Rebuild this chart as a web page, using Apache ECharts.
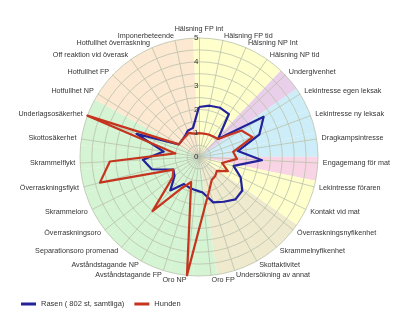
<!DOCTYPE html>
<html><head><meta charset="utf-8">
<script src="https://cdn.jsdelivr.net/npm/echarts@6/dist/echarts.min.js"></script>
<style>html,body{margin:0;padding:0;background:#fff}#c{width:400px;height:320px}</style>
</head><body><div id="c"></div>
<script>
// Categories in clockwise order starting at the top
const categories = [
  'Hälsning FP int','Hälsning FP tid','Hälsning NP Int','Hälsning NP tid','Undergivenhet',
  'Lekintresse egen leksak','Lekintresse ny leksak','Dragkampsintresse','Engagemang för mat',
  'Lekintresse föraren','Kontakt vid mat','Överraskningsnyfikenhet','Skrammelnyfikenhet',
  'Skottaktivitet','Undersökning av annat','Oro FP','Oro NP','Avståndstagande FP',
  'Avståndstagande NP','Separationsoro promenad','Överraskningsoro','Skrammeloro',
  'Överraskningsflykt','Skrammelflykt','Skottosäkerhet','Underlagsosäkerhet','Hotfullhet NP',
  'Hotfullhet FP','Off reaktion vid överask','Hotfullhet överraskning','Imponerbeteende'
];
const rasen = [2.1,2.2,2.25,2.2,1.1,3.2,2.7,1.65,2.65,1.5,1.95,2.3,2.35,2.15,2.0,1.5,1.4,1.35,1.3,1.85,1.3,1.2,2.05,2.36,1.5,2.8,1.0,1.0,1.05,1.2,1.25];
const hunden = [1.0,1.0,1.03,1.05,1.1,2.1,2.4,1.45,1.6,1.0,1.35,0.95,1.05,1.1,1.45,2.2,5.0,1.1,1.5,3.0,1.4,1.2,4.3,3.75,1.0,5.0,1.0,1.0,1.02,1.1,1.0];
const groups = ['greet','greet','greet','greet','submit','play','play','play','food','yellow','yellow',
  'curious','curious','curious','curious','fear','fear','fear','fear','fear','fear','fear','fear','fear','fear','fear',
  'aggr','aggr','aggr','aggr','aggr'];
const radiusTicks = [0,1,2,3,4,5];
const seriesNames = ['Rasen ( 802 st, samtliga)','Hunden'];

const groupColor = {greet:'#FFFFCC',submit:'#E9CFE9',play:'#CDEEF9',food:'#F9D4E4',yellow:'#FFFFCC',
  curious:'#EFE9CE',fear:'#D4F4D4',aggr:'#FDE8D2'};
const maxV = radiusTicks[radiusTicks.length-1];
const n = categories.length;
// ECharts radar runs counter-clockwise; reorder so that it reads clockwise
const order = [0];
for (let i = n-1; i >= 1; i--) order.push(i);
const center = [199,157], R = 119;

const chart = echarts.init(document.getElementById('c'), null, {renderer:'canvas'});
chart.setOption({
  animation:false,
  backgroundColor:'#fff',
  textStyle:{fontFamily:'Liberation Sans, Arial, sans-serif'},
  legend:{
    data:seriesNames, left:16, top:295, itemWidth:15, itemHeight:3, itemGap:10,
    icon:'rect', textStyle:{fontSize:7.5,color:'#333'}
  },
  polar:[{center:center, radius:R},{center:center, radius:R}],
  angleAxis:[
    {polarIndex:0, type:'category', data:categories, startAngle:93, clockwise:true,
      axisLine:{show:false}, axisTick:{show:false}, axisLabel:{show:false}, splitLine:{show:false}},
    {polarIndex:1, type:'value', startAngle:90, min:0, max:360,
      axisLine:{show:false}, axisTick:{show:false}, axisLabel:{show:false}, splitLine:{show:false}}
  ],
  radiusAxis:[
    {polarIndex:0, min:0,max:maxV, axisLine:{show:false}, axisTick:{show:false},
      splitLine:{show:false}, axisLabel:{show:false}},
    {polarIndex:1, min:0,max:maxV,interval:1, axisLine:{show:false}, axisTick:{show:false},
      splitLine:{show:false}, z:20,
      axisLabel:{color:'#333',fontSize:8, margin:0.5}}
  ],
  radar:{
    center:center, radius:R, startAngle:90, shape:'circle', splitNumber:10, z:3,
    indicator: order.map(i=>({name:categories[i], max:maxV, min:0})),
    axisName:{color:'#333', fontSize:7.2},
    nameGap:5,
    splitArea:{show:false},
    splitLine:{lineStyle:{color:'#BAC1AC', width:0.8}},
    axisLine:{lineStyle:{color:'#BAC1AC', width:0.8}}
  },
  series:[
    {type:'bar', coordinateSystem:'polar', polarIndex:0, barCategoryGap:'0%', barWidth:'100%', z:1, silent:true,
      data: categories.map((c,i)=>({value:maxV, itemStyle:{color:groupColor[groups[i]]}}))},
    {type:'radar', z:10, symbol:'none',
      data:[
        {name:seriesNames[0], value:order.map(i=>rasen[i]), lineStyle:{color:'#22229A',width:2.2}, itemStyle:{color:'#22229A'}},
        {name:seriesNames[1], value:order.map(i=>hunden[i]), lineStyle:{color:'#C4341E',width:2.2}, itemStyle:{color:'#C4341E'}}
      ]}
  ]
});
</script></body></html>
